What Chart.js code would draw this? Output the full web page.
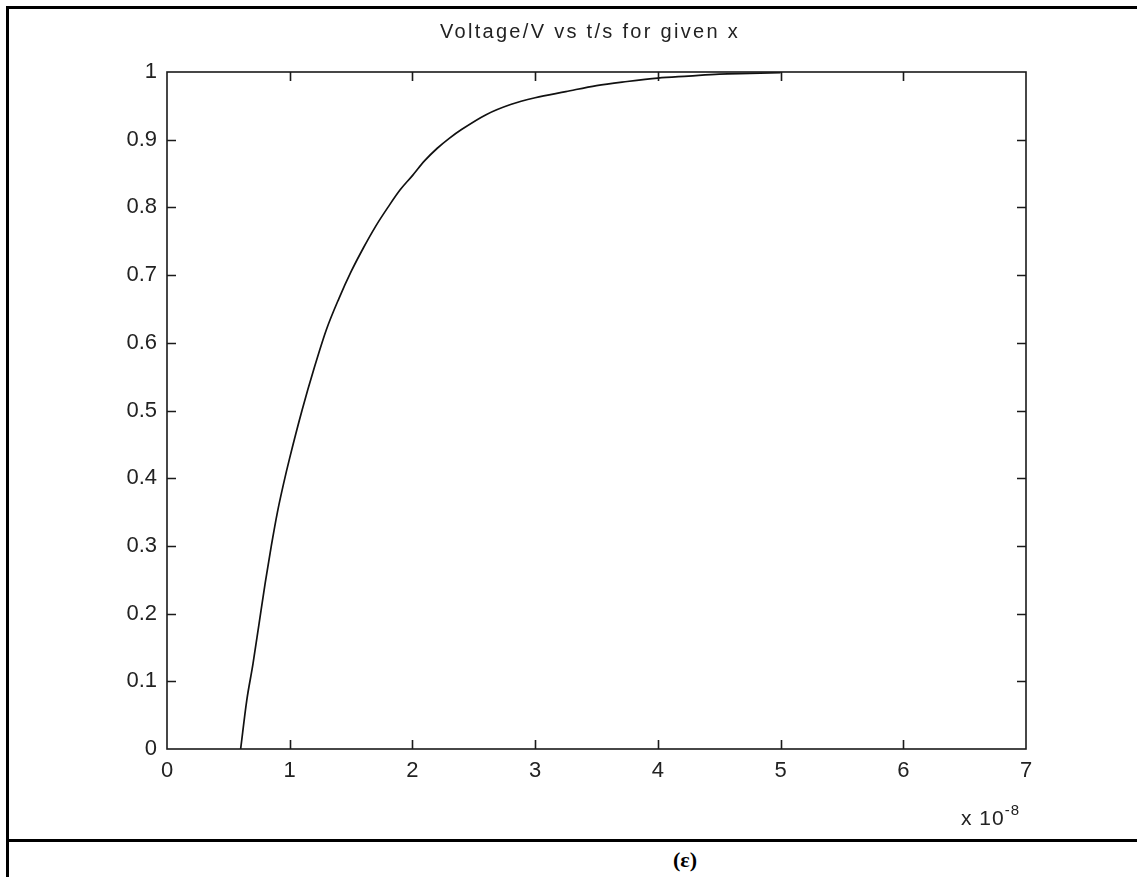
<!DOCTYPE html>
<html>
<head>
<meta charset="utf-8">
<script src="https://cdn.jsdelivr.net/npm/chart.js@4.4.0/dist/chart.umd.min.js"></script>
<style>
  html, body { margin: 0; padding: 0; background: #fff; }
  #page { position: relative; width: 1137px; height: 877px; overflow: hidden; font-family: "Liberation Sans", Arial, sans-serif; }
  .rule { position: absolute; background: #000; }
  #wrap { position: absolute; left: 0; top: 0; width: 1137px; height: 840px; }
  #title { position: absolute; left: 0; width: 1180px; top: 20px; text-align: center; font-size: 20px; letter-spacing: 2.3px; color: #222; white-space: nowrap; }
  #expo { position: absolute; left: 961px; top: 803px; font-size: 21px; color: #222; letter-spacing: 1px; white-space: nowrap; }
  #expo sup { font-size: 15px; position: relative; top: -2px; }
  #caption { position: absolute; left: 0; width: 1370px; top: 847px; text-align: center; font-family: "Liberation Serif", "Times New Roman", serif; font-size: 22px; font-weight: bold; color: #000; }
</style>
</head>
<body>
<div id="page">
  <div class="rule" style="left:6px;top:6px;width:1131px;height:3px"></div>
  <div class="rule" style="left:6px;top:6px;width:3px;height:871px"></div>
  <div class="rule" style="left:6px;top:839px;width:1131px;height:3px"></div>
  <div id="wrap"><canvas id="chart"></canvas></div>
  <div id="title">Voltage/V vs t/s for given x</div>
  <div id="expo">x 10<sup>-8</sup></div>
  <div id="caption">(ε)</div>
</div>
<script>
// time in units of 1e-8 s, voltage in V
const timeVals = [0.6, 0.65, 0.7, 0.75, 0.8, 0.85, 0.9, 0.95, 1.0, 1.1, 1.2, 1.3, 1.4, 1.5, 1.6, 1.7, 1.8, 1.9, 2.0,
                  2.1, 2.2, 2.3, 2.4, 2.6, 2.8, 3.0, 3.25, 3.5, 3.75, 4.0, 4.25, 4.5, 4.75, 5.0];
const voltVals = [0, 0.072, 0.125, 0.185, 0.245, 0.30, 0.35, 0.392, 0.43, 0.50, 0.563, 0.62, 0.665, 0.705, 0.74, 0.772, 0.80, 0.826, 0.847,
                  0.869, 0.887, 0.902, 0.915, 0.937, 0.952, 0.962, 0.971, 0.980, 0.986, 0.991, 0.994, 0.997, 0.998, 0.999];
const xTicks = [0, 1, 2, 3, 4, 5, 6, 7];
const yTicks = [0, 0.1, 0.2, 0.3, 0.4, 0.5, 0.6, 0.7, 0.8, 0.9, 1];

const points = timeVals.map((t, i) => ({ x: t, y: voltVals[i] }));

// box around the axes with inward tick marks on all four sides
const boxTicks = {
  id: 'boxTicks',
  afterDraw(chart) {
    const { ctx, chartArea: a, scales: { x, y } } = chart;
    const len = 9;
    ctx.save();
    ctx.strokeStyle = '#1a1a1a';
    ctx.lineWidth = 1.6;
    ctx.strokeRect(a.left, a.top, a.right - a.left, a.bottom - a.top);
    ctx.beginPath();
    xTicks.slice(1, -1).forEach(v => {
      const px = Math.round(x.getPixelForValue(v)) + 0.5;
      ctx.moveTo(px, a.bottom); ctx.lineTo(px, a.bottom - len);
      ctx.moveTo(px, a.top); ctx.lineTo(px, a.top + len);
    });
    yTicks.slice(1, -1).forEach(v => {
      const py = Math.round(y.getPixelForValue(v)) + 0.5;
      ctx.moveTo(a.left, py); ctx.lineTo(a.left + len, py);
      ctx.moveTo(a.right, py); ctx.lineTo(a.right - len, py);
    });
    ctx.stroke();
    ctx.restore();
  }
};

const tickFont = { family: '"Liberation Sans", Arial, sans-serif', size: 22 };

new Chart(document.getElementById('chart'), {
  type: 'scatter',
  data: {
    datasets: [{
      data: points,
      showLine: true,
      borderColor: '#111',
      borderWidth: 1.7,
      pointRadius: 0,
      cubicInterpolationMode: 'monotone',
      fill: false
    }]
  },
  options: {
    responsive: true,
    maintainAspectRatio: false,
    animation: false,
    layout: { padding: { top: 72, right: 111, left: 0, bottom: 0 } },
    plugins: { legend: { display: false }, tooltip: { enabled: false }, title: { display: false } },
    scales: {
      x: {
        type: 'linear', min: 0, max: 7,
        afterFit: s => { s.height = 91; },
        afterBuildTicks: s => { s.ticks = xTicks.map(v => ({ value: v })); },
        grid: { display: false, drawTicks: false },
        border: { display: false },
        ticks: { color: '#222', font: tickFont, padding: 9, maxRotation: 0, callback: v => String(v) }
      },
      y: {
        type: 'linear', min: 0, max: 1,
        afterFit: s => { s.width = 167; },
        afterBuildTicks: s => { s.ticks = yTicks.map(v => ({ value: v })); },
        grid: { display: false, drawTicks: false },
        border: { display: false },
        ticks: { color: '#222', font: tickFont, padding: 10, callback: v => String(Math.round(v * 10) / 10) }
      }
    }
  },
  plugins: [boxTicks]
});
</script>
</body>
</html>
